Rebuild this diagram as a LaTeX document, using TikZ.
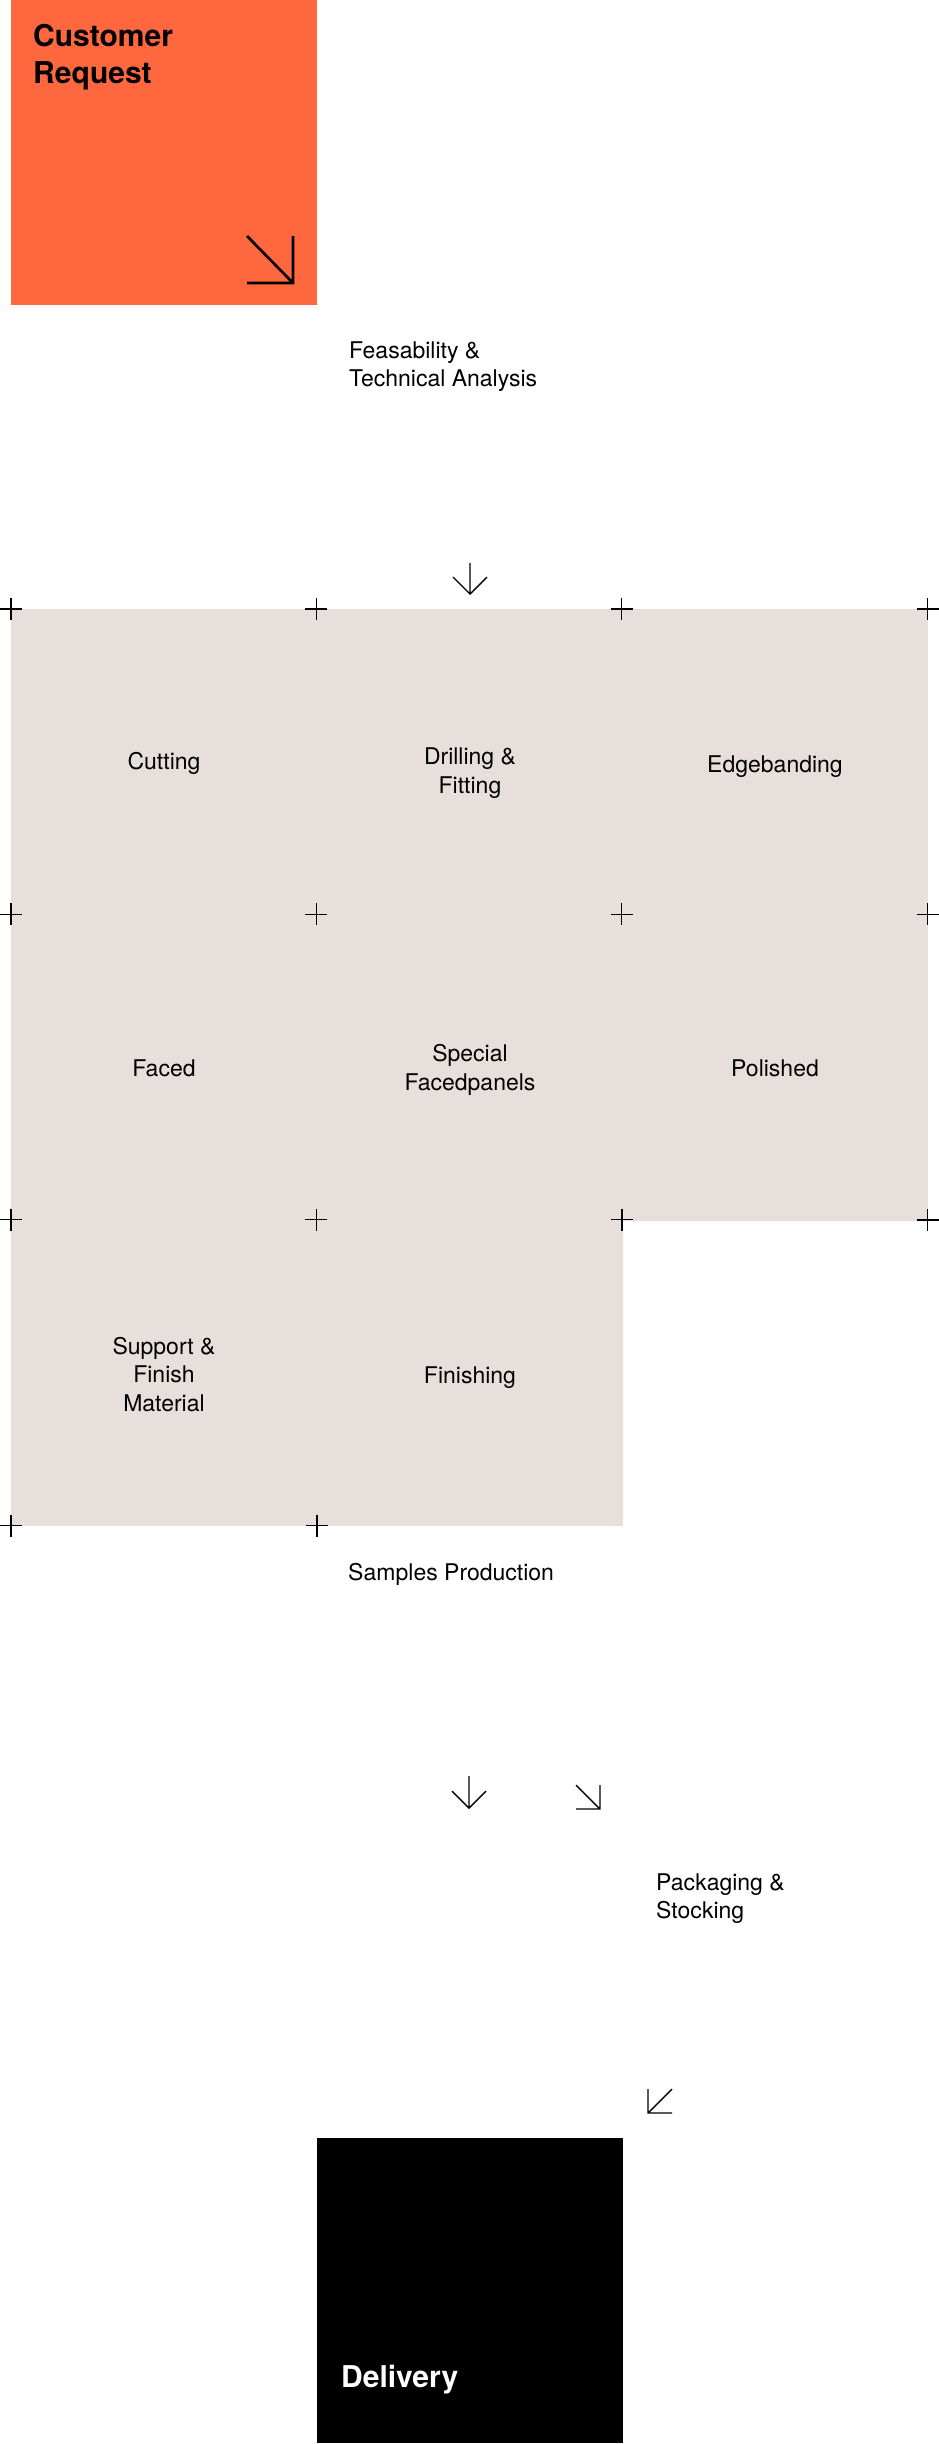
\documentclass[tikz,border=0pt]{standalone}
\usepackage{fontspec}
\setmainfont{TeX Gyre Heros}
\definecolor{orng}{HTML}{FF673F}
\definecolor{cellgray}{HTML}{E6DFDC}
\begin{document}
\begin{tikzpicture}[x=1pt,y=-1pt,
  cell/.style={fill=cellgray, draw=cellgray, line width=0.5pt, minimum width=305.33pt, minimum height=305.33pt, inner sep=0pt, anchor=north west},
  bigbox/.style={minimum width=305.5pt, minimum height=305pt, inner sep=0pt, anchor=north west},
  lbl/.style={font=\fontsize{23}{28.5}\selectfont, align=center, inner sep=0pt, anchor=base},
  note/.style={font=\fontsize{23}{28}\selectfont, align=left, inner sep=0pt, anchor=base west},
  title/.style={font=\fontsize{30}{37}\selectfont\bfseries, align=left, inner sep=0pt, anchor=base west},
  tick/.style={line width=1.4pt},
  glyph/.style={line width=1.4pt},
  pics/crossmark/.style={code={\draw[tick] (-11,0)--(11,0) (0,-11)--(0,11);}}
]
\useasboundingbox (0,0) rectangle (939,2444);

% start and end boxes (anchor=base of a multi-line node = baseline of its last line)
\node[bigbox, fill=orng] (req) at (11,0) {};
\node[bigbox, fill=black] (deliv) at (317,2138) {};
\node[title] (reqt) at (33,83) {Customer\\Request};
\node[title, text=white] (delivt) at (341,2387) {Delivery};

% grid cells
\node[cell] (cut) at (11,609) {};
\node[cell] (drill) at (316.33,609) {};
\node[cell] (edge) at (621.67,609) {};
\node[cell] (faced) at (11,914.33) {};
\node[cell] (special) at (316.33,914.33) {};
\node[cell] (polished) at (621.67,914.33) {};
\node[cell] (support) at (11,1219.67) {};
\node[cell] (finishing) at (316.33,1219.67) {};

% cell labels
\node[lbl] (cutl) at (164,769) {Cutting};
\node[lbl] (drilll) at (470,793) {Drilling \&\\Fitting};
\node[lbl] (edgel) at (775,772) {Edgebanding};
\node[lbl] (facedl) at (164,1076) {Faced};
\node[lbl] (speciall) at (470,1090) {Special\\Facedpanels};
\node[lbl] (polishedl) at (775,1076) {Polished};
\node[lbl] (supportl) at (164,1411) {Support \&\\Finish\\Material};
\node[lbl] (finishingl) at (470,1383) {Finishing};

% crosses at grid corners
\foreach \c in {cut.north west, drill.north west, edge.north west, edge.north east,
                faced.north west, special.north west, polished.north west, polished.north east,
                support.north west, finishing.north west, finishing.north east, polished.south east,
                support.south west, support.south east}
  \pic at (\c) {crossmark};

% step notes
\node[note] (feas) at (349,386) {Feasability \&\\Technical Analysis};
\node[note] (samples) at (348,1580) {Samples Production};
\node[note] (pack) at (656,1918) {Packaging \&\\Stocking};

% arrow glyphs
\draw[line width=2.7pt] (247,236) -- (293,283) (293,236) -- (293,283) -- (247,283);
\draw[glyph] (470,563) -- (470,594) (453,577) -- (470,594) -- (487,577);
\draw[glyph] (469,1776) -- (469,1808) (452,1791) -- (469,1808) -- (486,1791);
\draw[glyph] (576,1785) -- (600,1809) (600,1785) -- (600,1809) -- (576,1809);
\draw[glyph] (672,2089) -- (648,2113) (648,2089) -- (648,2113) -- (672,2113);
\end{tikzpicture}
\end{document}
